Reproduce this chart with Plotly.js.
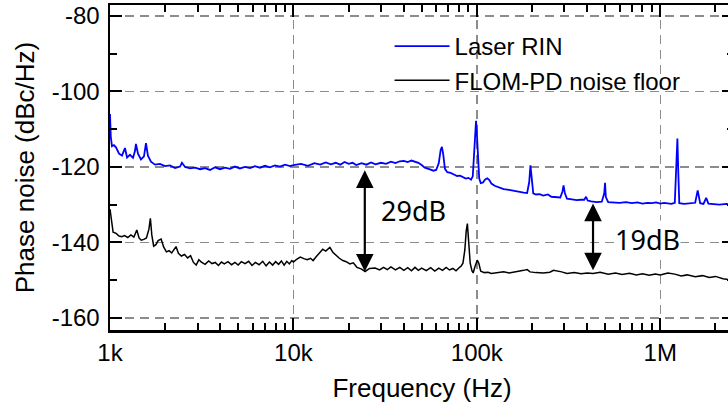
<!DOCTYPE html>
<html>
<head>
<meta charset="utf-8">
<script src="https://cdn.plot.ly/plotly-3.0.1.min.js"></script>
<style>
html,body{margin:0;padding:0;overflow:hidden;background:#fff;width:728px;height:408px;}
#chart{width:760px;height:408px;}
</style>
</head>
<body>
<div id="chart"></div>
<script>
// ---- data ----
const rinFreq = [1000,1010,1025,1050,1078,1100,1120,1162,1207,1238,1285,1335,1368,1385,1421,1475,1532,1571,1610,1672,1759,1873,1995,2125,2263,2410,2467,2566,2730,2910,3100,3300,3510,3740,3980,4240,4510,4800,5110,5440,5800,6170,6570,7000,7450,7930,8450,9000,9580,
10000,11000,12000,13000,14000,15000,16000,17000,18000,19000,20000,21000,22000,23500,25000,26500,28000,30000,32000,34000,36000,38000,40000,42000,44000,46000,48000,50000,52000,55000,58000,60000,62000,63500,64500,65500,67000,69000,72000,75000,78000,81000,84000,87000,90000,93000,95000,96500,98000,99000,100000,101500,103000,105000,108000,111000,114000,117000,120000,125000,130000,135000,140000,150000,160000,170000,180000,188000,193000,196000,199000,203000,210000,220000,230000,244000,255000,270000,285000,293000,297000,302000,310000,330000,350000,370000,385000,394000,402000,420000,450000,480000,495000,500000,505000,520000,550000,600000,650000,700000,750000,800000,850000,900000,950000,1000000,1050000,1100000,1150000,1200000,1225000,1240000,1255000,1270000,1350000,1450000,1550000,1600000,1650000,1720000,1780000,1830000,1950000,2100000,2300000,2600000];
const rinVal = [-106,-112,-114.5,-114.2,-114.8,-115.5,-116.5,-117,-115,-117.5,-116.8,-117.6,-115.8,-113.9,-116.5,-118,-117.2,-113.7,-117,-118.6,-119.4,-119.2,-119.8,-119.6,-120.3,-119.9,-118.9,-120,-120.4,-120.2,-120.6,-120.3,-120.8,-120.1,-120.6,-120.2,-120.5,-119.9,-120.4,-120,-120.3,-119.8,-120.2,-119.7,-120.1,-119.6,-119.9,-119.4,-119.8,
-119.5,-119.2,-119.7,-119.0,-119.4,-118.8,-119.3,-118.9,-119.4,-118.7,-119.2,-118.9,-119.5,-119.0,-119.4,-118.8,-119.3,-118.9,-119.2,-118.6,-119.0,-118.5,-118.4,-118.7,-118.3,-118.6,-118.9,-119.5,-120.2,-120.6,-121,-120.8,-119,-115.5,-114.7,-116.5,-120.5,-121.4,-121.6,-122,-122.4,-122.3,-122.8,-123.1,-122.9,-123.4,-122.5,-116,-108.5,-107.8,-111,-118,-123,-124.3,-124.1,-123.3,-123.0,-123.5,-124.4,-125,-125.3,-125.5,-125.9,-126.1,-126.4,-126.7,-126.8,-126.9,-124,-119.6,-123.5,-127,-127.3,-127.2,-127.6,-127.3,-127.9,-128,-128.1,-126.5,-124.9,-127,-128.4,-128.6,-128.8,-128.7,-128.7,-127.9,-128.9,-129.1,-129.3,-129.2,-127,-124.2,-128,-129.3,-129.4,-129.5,-129.3,-129.6,-129.4,-129.7,-129.5,-129.6,-129.4,-129.7,-129.5,-129.6,-129.8,-129.5,-120,-112.5,-122,-129.6,-129.8,-129.7,-129.5,-126.2,-129.6,-129.8,-128.2,-129.7,-129.9,-130,-129.8,-130.1];

const pdFreq = [1000,1020,1040,1080,1120,1160,1200,1250,1300,1350,1400,1440,1480,1530,1580,1630,1660,1690,1730,1780,1830,1900,1960,2030,2100,2170,2290,2360,2450,2550,2650,2750,2850,2950,3050,3150,3300,3450,3600,3750,3900,4050,4200,4400,4600,4800,5000,5200,5450,5700,5950,6200,6500,6800,7100,7400,7700,8000,8300,8600,8900,9200,9500,9800,
10000,10400,10900,11400,11900,12400,12800,13300,13800,14450,15000,15800,16400,17100,17800,18600,19400,20300,21200,22200,23400,24600,26000,27900,29500,31000,32500,34000,36000,38000,40000,42000,44000,46000,48000,50000,53000,56000,59000,62000,65000,68000,71000,74000,77000,80000,82000,84000,86000,87500,88800,90000,92000,94000,95500,97500,100500,102500,105000,110000,115000,120000,130000,140000,150000,160000,170000,180000,188000,195000,210000,230000,250000,262000,290000,310000,340000,370000,400000,430000,470000,520000,570000,620000,680000,740000,800000,870000,940000,1000000,1100000,1200000,1300000,1400000,1550000,1700000,1850000,2000000,2200000,2400000,2600000];
const pdVal = [-131.2,-135,-137.3,-137.6,-138.3,-138.5,-138.2,-138.7,-138.0,-138.6,-136.7,-138.8,-139.4,-139.2,-138.8,-136.5,-133.6,-138,-141,-140.6,-139.5,-139.1,-141.2,-142.5,-142.2,-142.8,-141.1,-142.9,-143.6,-143.2,-144.1,-143.5,-145.3,-146.0,-144.6,-145.2,-145.8,-144.9,-145.6,-145.3,-146.1,-145.2,-145.7,-145.1,-145.9,-145.3,-146.0,-145.1,-145.6,-145.0,-146.1,-145.3,-145.9,-145.0,-146.2,-145.2,-146.0,-145.1,-145.8,-144.9,-146.0,-145.0,-145.7,-144.8,
-145.2,-144.5,-143.9,-144.3,-144.6,-144.2,-144.8,-143.8,-143.0,-141.8,-142.3,-141.3,-142.6,-143.5,-144.2,-144.8,-145.1,-145.7,-145.4,-146.6,-147.0,-147.7,-146.9,-146.8,-147.3,-146.6,-147.2,-146.5,-147.3,-146.6,-147.4,-146.7,-147.5,-146.6,-147.4,-146.8,-147.5,-146.7,-147.6,-146.8,-147.4,-146.6,-147.3,-146.9,-147.5,-146.7,-146.3,-145.5,-142,-137,-135,-139,-145.5,-147.5,-148.1,-146.5,-144.7,-145.5,-147.6,-148,-147.9,-148.2,-148,-147.8,-148.1,-147.9,-147.7,-147.4,-147.2,-147.8,-148,-148.1,-147.9,-147.4,-147.8,-148.2,-148.0,-148.3,-148.1,-148.2,-147.9,-148.4,-148.1,-148.5,-148.2,-148.6,-148.3,-148.7,-148.4,-148.6,-148.1,-148.4,-148.9,-148.6,-149.1,-148.8,-149.3,-149.0,-149.6,-149.9,-149.8];

const xTickVals = [1e3,1e4,1e5,1e6];
const xTickText = ['1k','10k','100k','1M'];
const xMinorVals = [2e3,3e3,4e3,5e3,6e3,7e3,8e3,9e3,2e4,3e4,4e4,5e4,6e4,7e4,8e4,9e4,2e5,3e5,4e5,5e5,6e5,7e5,8e5,9e5,2e6];
const yTickVals = [-80,-100,-120,-140,-160];
const yTickText = ['-80','-100','-120','-140','-160'];
const yMinorVals = [-90,-110,-130,-150];

const gap1 = {freq: 24500, top: -120.5, bottom: -147.7, label: '29dB', lx: 44900, ly: -131.5};
const gap2 = {freq: 430000, top: -129.3, bottom: -147.4, label: '19dB', lx: 847000, ly: -139.1};

const traces = [
  {x: rinFreq, y: rinVal, type: 'scatter', mode: 'lines', name: 'Laser RIN',
   line: {color: '#0000ff', width: 1.8}},
  {x: pdFreq, y: pdVal, type: 'scatter', mode: 'lines', name: 'FLOM-PD noise floor',
   line: {color: '#000000', width: 1.5}}
];

function arrowAnn(g){
  return {x: Math.log10(g.freq), y: g.bottom, ax: Math.log10(g.freq), ay: g.top,
    xref:'x', yref:'y', axref:'x', ayref:'y', text:'', showarrow:true,
    arrowhead:2, arrowsize:1.6, arrowwidth:2.2, arrowcolor:'#000', arrowside:'end+start',
    standoff:0, startstandoff:0, startarrowhead:2, startarrowsize:1.6};
}
function textAnn(g){
  return {x: Math.log10(g.lx), y: g.ly, xref:'x', yref:'y', text: g.label, showarrow:false,
    font:{family:'Noto Sans', size:27, color:'#000'}, bgcolor:'#fff', borderpad:0};
}

const font = 'Liberation Sans, Arial, sans-serif';
const layout = {
  width: 760, height: 408,
  margin: {l: 110, r: 26, t: 5, b: 78},
  paper_bgcolor: '#fff', plot_bgcolor: '#fff',
  font: {family: font, size: 24, color: '#000'},
  showlegend: true,
  legend: {x: 0.448, y: 0.9415, xanchor: 'left', yanchor: 'top', bgcolor: 'rgba(0,0,0,0)',
    font: {family: font, size: 24, color: '#000'}, itemwidth: 55, tracegroupgap: 0},
  xaxis: {
    type: 'log', range: [3, 6.402], tickmode: 'array', tickvals: xTickVals, ticktext: xTickText,
    ticks: 'inside', ticklen: 12, tickwidth: 2, tickcolor: '#000',
    showline: true, linewidth: 2.5, linecolor: '#000', mirror: 'ticks',
    showgrid: true, gridcolor: '#8c8c8c', gridwidth: 1.5, griddash: '9px,6px',
    zeroline: false, ticklabelstandoff: 0,
    tickfont: {family: font, size: 24},
    minor: {tickmode: 'array', tickvals: xMinorVals, ticks: 'inside', ticklen: 7, tickwidth: 2, tickcolor: '#000', showgrid: false},
    title: {text: 'Frequency (Hz)', font: {family: font, size: 26}, standoff: 14}
  },
  yaxis: {
    range: [-163.2, -77.1], tickmode: 'array', tickvals: yTickVals, ticktext: yTickText,
    ticks: 'inside', ticklen: 12, tickwidth: 2, tickcolor: '#000',
    showline: true, linewidth: 2.5, linecolor: '#000', mirror: 'ticks',
    showgrid: true, gridcolor: '#8c8c8c', gridwidth: 1.5, griddash: '9px,6px',
    zeroline: false, ticklabelstandoff: 3,
    tickfont: {family: font, size: 24},
    minor: {tickmode: 'array', tickvals: yMinorVals, ticks: 'inside', ticklen: 7, tickwidth: 2, tickcolor: '#000', showgrid: false},
    title: {text: 'Phase noise (dBc/Hz)', font: {family: font, size: 26}, standoff: 10}
  },
  annotations: [arrowAnn(gap1), arrowAnn(gap2), textAnn(gap1), textAnn(gap2)]
};

Plotly.newPlot('chart', traces, layout, {displayModeBar: false, staticPlot: true});
</script>
</body>
</html>
